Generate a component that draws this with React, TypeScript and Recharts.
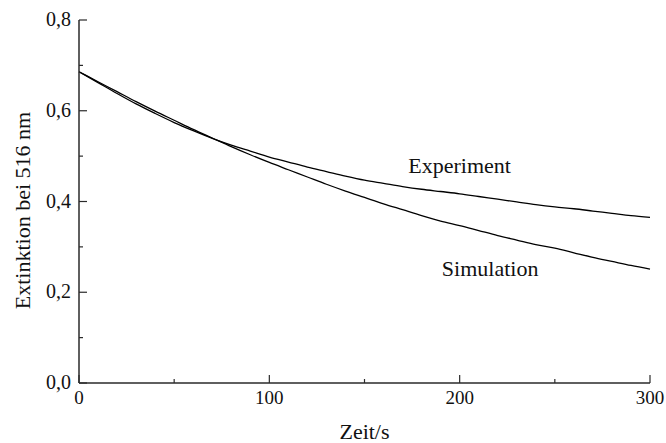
import React from "react";
import { LineChart, Line, XAxis, YAxis, ReferenceDot } from "recharts";

// time axis (s), one reading every 10 s
const times = [0, 10, 20, 30, 40, 50, 60, 70, 80, 90, 100, 110, 120, 130, 140, 150, 160, 170, 180, 190, 200, 210, 220, 230, 240, 250, 260, 270, 280, 290, 300];

const experiment = [
  0.686, 0.662, 0.638, 0.615, 0.594, 0.574, 0.556, 0.539, 0.524, 0.511, 0.498, 0.487, 0.476, 0.466, 0.456, 0.447,
  0.44, 0.433, 0.427, 0.422, 0.417, 0.411, 0.405, 0.399, 0.393, 0.388, 0.384, 0.379, 0.374, 0.369, 0.365,
];

const simulation = [
  0.686, 0.664, 0.642, 0.62, 0.599, 0.579, 0.559, 0.54, 0.521, 0.503, 0.486, 0.47, 0.454, 0.438, 0.423, 0.409,
  0.395, 0.382, 0.369, 0.357, 0.347, 0.336, 0.325, 0.315, 0.305, 0.297, 0.287, 0.277, 0.268, 0.259, 0.251,
];

const xTicks = [0, 50, 100, 150, 200, 250, 300];
const xMajor = [0, 100, 200, 300];
const yTicks = [0, 0.1, 0.2, 0.3, 0.4, 0.5, 0.6, 0.7, 0.8];
const yMajor = [0, 0.2, 0.4, 0.6, 0.8];

const data = times.map((t, i) => ({ t, experiment: experiment[i], simulation: simulation[i] }));

const FONT = "Liberation Serif";
const AXIS = "#2a2a2a";

const isMajor = (list: number[], v: number) => list.some((m) => Math.abs(m - v) < 1e-6);

function SerifText({ size, children, ...rest }: any) {
  return (
    <text {...rest} fontFamily={FONT} fontSize={size} fill="#111" style={{ fontFamily: FONT, fontSize: size }}>
      {children}
    </text>
  );
}

// ticks point inwards; majors are longer and carry a label
function XTick(props: any) {
  const { x, y, payload } = props;
  const major = isMajor(xMajor, payload.value);
  const axisY = y - 8;
  return (
    <g>
      <line x1={x} x2={x} y1={axisY} y2={axisY - (major ? 8 : 4)} stroke={AXIS} strokeWidth={1.2} />
      {major && (
        <SerifText x={x} y={axisY + 21} textAnchor="middle" size={19}>
          {String(payload.value)}
        </SerifText>
      )}
    </g>
  );
}

function YTick(props: any) {
  const { x, y, payload } = props;
  const major = isMajor(yMajor, payload.value);
  const axisX = x + 8;
  return (
    <g>
      <line x1={axisX} x2={axisX + (major ? 8 : 4)} y1={y} y2={y} stroke={AXIS} strokeWidth={1.2} />
      {major && (
        <SerifText x={axisX - 8} y={y + 6} textAnchor="end" size={20}>
          {payload.value.toFixed(1).replace(".", ",")}
        </SerifText>
      )}
    </g>
  );
}

function YLabel(props: any) {
  const { viewBox } = props;
  const cx = viewBox.x + 30;
  const cy = viewBox.y + viewBox.height / 2 + 9;
  return (
    <SerifText x={cx} y={cy} transform={`rotate(-90 ${cx} ${cy})`} textAnchor="middle" size={22}>
      Extinktion bei 516 nm
    </SerifText>
  );
}

function XLabel(props: any) {
  const { viewBox } = props;
  const cx = viewBox.x + viewBox.width / 2;
  return (
    <SerifText x={cx} y={viewBox.y + 56} textAnchor="middle" size={22}>
      Zeit/s
    </SerifText>
  );
}

function SeriesName(props: any) {
  const { viewBox, value } = props;
  return (
    <SerifText x={viewBox.x} y={viewBox.y + 7} textAnchor="middle" size={22}>
      {value}
    </SerifText>
  );
}

export default function App() {
  return (
    <div style={{ position: "absolute", left: 0, top: 0, width: 666, height: 443, background: "#fff", fontFamily: FONT }}>
      <LineChart
        width={666}
        height={443}
        data={data}
        margin={{ top: 20, right: 16, bottom: 0, left: 0 }}
        style={{ fontFamily: FONT }}
      >
        <XAxis
          dataKey="t"
          type="number"
          domain={[0, 300]}
          ticks={xTicks}
          interval={0}
          height={60}
          stroke={AXIS}
          strokeWidth={1.5}
          tickLine={false}
          tickSize={0}
          tickMargin={8}
          tick={<XTick />}
          label={<XLabel />}
        />
        <YAxis
          type="number"
          domain={[0, 0.8]}
          ticks={yTicks}
          interval={0}
          width={79}
          stroke={AXIS}
          strokeWidth={1.5}
          tickLine={false}
          tickSize={0}
          tickMargin={8}
          tick={<YTick />}
          label={<YLabel />}
        />
        <Line type="monotone" dataKey="experiment" stroke="#000" strokeWidth={1.3} dot={false} isAnimationActive={false} />
        <Line type="monotone" dataKey="simulation" stroke="#000" strokeWidth={1.3} dot={false} isAnimationActive={false} />
        <ReferenceDot x={200} y={0.478} r={0} label={<SeriesName value="Experiment" />} />
        <ReferenceDot x={216} y={0.251} r={0} label={<SeriesName value="Simulation" />} />
      </LineChart>
    </div>
  );
}
